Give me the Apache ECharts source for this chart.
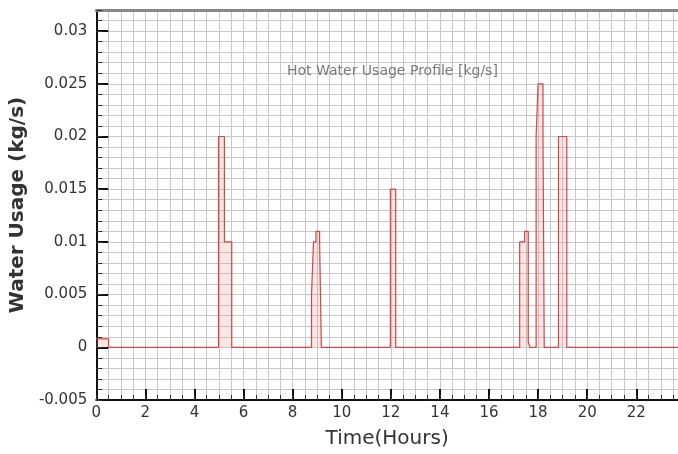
<!DOCTYPE html>
<html>
  <head>
    <title></title>
    <meta charset="UTF-8" />
    <script src="https://cdn.jsdelivr.net/npm/echarts@6/dist/echarts.min.js"></script>
  </head>
  <body style="margin:0">
    <div id="main"></div>
    <script>
      const width = 678;
      const height = 454;
      const main = document.getElementById('main');
      main.style.width = `${width}px`;
      main.style.height = `${height}px`;

      // step profile: value holds from each time until the next one
      const hours = [0, 0.5, 4.98, 5.22, 5.52, 8.77, 8.85, 8.95, 9.1, 9.17,
        11.98, 12.2, 17.25, 17.45, 17.6, 17.67, 17.92, 18.0, 18.2, 18.25,
        18.83, 19.17, 23.7];
      const usage = [0.0008, 0, 0.02, 0.01, 0, 0.005, 0.01, 0.011, 0.01, 0,
        0.015, 0, 0.01, 0.011, 0.0005, 0, 0.02, 0.025, 0.02, 0,
        0.02, 0, 0];
      const xMax = 23.7;
      const yMin = -0.005;
      const yMax = 0.032;

      const font = 'DejaVu Sans, sans-serif';
      const gridLine = { show: true, lineStyle: { color: '#c8c8c8', width: 1 } };

      const myChart = echarts.init(main);
      const option = {
        animation: false,
        title: {
          text: 'Hot Water Usage Profile [kg/s]',
          left: 282,
          top: 59,
          textStyle: { fontSize: 14, fontWeight: 'normal', color: '#7a7a7a', fontFamily: font },
        },
        grid: { left: 94, right: 0, top: 10, bottom: 54 },
        xAxis: [
          {
            type: 'value',
            min: 0,
            max: xMax,
            interval: 2,
            position: 'bottom',
            name: 'Time(Hours)',
            nameLocation: 'middle',
            nameGap: 29,
            nameTextStyle: { fontSize: 20, color: '#333', fontFamily: font },
            axisLine: { onZero: false, lineStyle: { color: '#111', width: 2 } },
            axisTick: { inside: true, length: 11, lineStyle: { color: '#111', width: 2 } },
            axisLabel: { fontSize: 15, color: '#333', margin: 6, showMaxLabel: false, fontFamily: font },
            splitLine: { show: false },
          },
          {
            type: 'value',
            min: 0,
            max: xMax,
            interval: 0.5,
            position: 'bottom',
            axisLine: { show: false, onZero: false },
            axisTick: { inside: true, length: 5, lineStyle: { color: '#333' } },
            axisLabel: { show: false },
            splitLine: gridLine,
          },
          {
            type: 'value',
            min: 0,
            max: xMax,
            position: 'top',
            axisLine: { onZero: false, lineStyle: { color: '#888', width: 3 } },
            axisTick: { show: false },
            axisLabel: { show: false },
            splitLine: { show: false },
          },
        ],
        yAxis: [
          {
            type: 'value',
            min: yMin,
            max: yMax,
            interval: 0.005,
            position: 'left',
            name: 'Water Usage (kg/s)',
            nameLocation: 'middle',
            nameGap: 57,
            nameTextStyle: { fontSize: 20, fontWeight: 'bold', color: '#333', fontFamily: font },
            axisLine: { onZero: false, lineStyle: { color: '#111', width: 2 } },
            axisTick: { inside: true, length: 12, lineStyle: { color: '#111', width: 2 } },
            axisLabel: { fontSize: 15, color: '#333', margin: 9, showMaxLabel: false, fontFamily: font },
            splitLine: { show: false },
          },
          {
            type: 'value',
            min: yMin,
            max: yMax,
            interval: 0.001,
            position: 'left',
            axisLine: { show: false, onZero: false },
            axisTick: { inside: true, length: 6, lineStyle: { color: '#333' } },
            axisLabel: { show: false },
            splitLine: gridLine,
          },
        ],
        series: [
          {
            type: 'line',
            step: 'end',
            xAxisIndex: 0,
            yAxisIndex: 0,
            symbol: 'none',
            data: hours.map((h, i) => [h, usage[i]]),
            lineStyle: { color: '#d04848', width: 1.2 },
            areaStyle: { color: 'rgba(235,130,130,0.3)', origin: 0 },
          },
        ],
      };
      myChart.setOption(option);
    </script>
  </body>
</html>
